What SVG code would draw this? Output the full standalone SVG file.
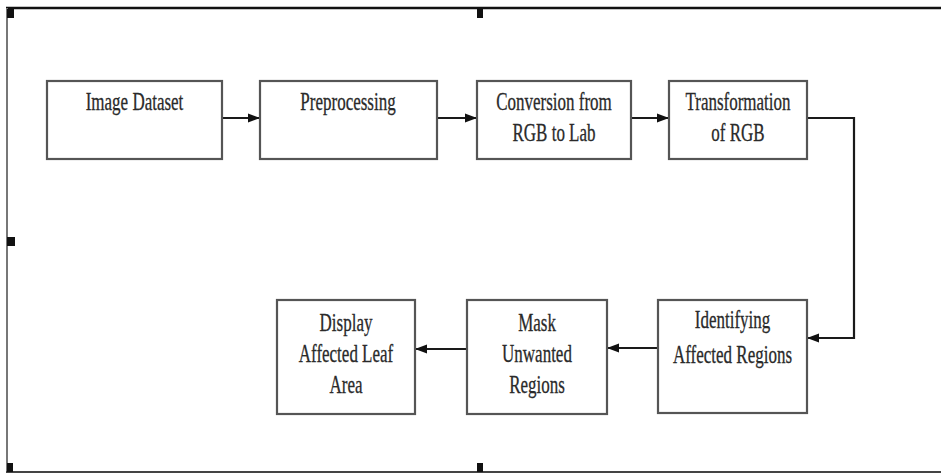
<svg xmlns="http://www.w3.org/2000/svg" width="941" height="476" viewBox="0 0 941 476">
<style>
.box{fill:#ffffff;stroke:#555555;stroke-width:2.2}
.lbl{font-family:"Liberation Serif","Times New Roman",serif;font-size:25px;fill:#2a2a2a;stroke:#2a2a2a;stroke-width:0.3;text-anchor:middle}
.con{fill:none;stroke:#1a1a1a;stroke-width:2.2}
.hd{fill:#111111}
</style>
<defs>
<marker id="ah" viewBox="0 0 12 10" refX="12" refY="5" markerWidth="12" markerHeight="10" markerUnits="userSpaceOnUse" orient="auto">
<path d="M0,0.5 L12,5 L0,9.5 Z" fill="#111111"/>
</marker>
</defs>
<rect x="0" y="0" width="941" height="476" fill="#ffffff"/>
<g id="frame">
<line x1="6" y1="8" x2="941" y2="8" stroke="#111111" stroke-width="2.5"/>
<line x1="7" y1="8" x2="7" y2="472" stroke="#777777" stroke-width="2"/>
<line x1="6" y1="472" x2="941" y2="472" stroke="#444444" stroke-width="2"/>
<rect class="hd" x="7" y="9" width="7" height="9"/>
<rect class="hd" x="477" y="9" width="6" height="9"/>
<rect class="hd" x="7" y="237" width="8" height="9"/>
<rect class="hd" x="7" y="463" width="6" height="9"/>
<rect class="hd" x="477" y="463" width="6" height="9"/>
</g>
<g id="connectors">
<line class="con" x1="222" y1="118" x2="260" y2="118" marker-end="url(#ah)"/>
<line class="con" x1="437" y1="118" x2="477" y2="118" marker-end="url(#ah)"/>
<line class="con" x1="631" y1="118" x2="669" y2="118" marker-end="url(#ah)"/>
<path class="con" d="M807,118 H854 V338 H807" marker-end="url(#ah)"/>
<line class="con" x1="658" y1="348" x2="607" y2="348" marker-end="url(#ah)"/>
<line class="con" x1="467" y1="349" x2="415" y2="349" marker-end="url(#ah)"/>
</g>
<g id="n1">
<rect class="box" x="47" y="81" width="175" height="78"/>
<text class="lbl" transform="translate(134.5,110) scale(0.68,1)">Image Dataset</text>
</g>
<g id="n2">
<rect class="box" x="260" y="81" width="177" height="78"/>
<text class="lbl" transform="translate(348,110) scale(0.68,1)">Preprocessing</text>
</g>
<g id="n3">
<rect class="box" x="477" y="81" width="154" height="78"/>
<text class="lbl" transform="translate(554,110) scale(0.68,1)"><tspan x="0" y="0">Conversion from</tspan><tspan x="0" y="31">RGB to Lab</tspan></text>
</g>
<g id="n4">
<rect class="box" x="669" y="81" width="138" height="78"/>
<text class="lbl" transform="translate(738,110) scale(0.68,1)"><tspan x="0" y="0">Transformation</tspan><tspan x="0" y="31">of RGB</tspan></text>
</g>
<g id="n5">
<rect class="box" x="658" y="300" width="149" height="113"/>
<text class="lbl" transform="translate(732.5,328) scale(0.68,1)"><tspan x="0" y="0">Identifying</tspan><tspan x="0" y="35">Affected Regions</tspan></text>
</g>
<g id="n6">
<rect class="box" x="467" y="300" width="140" height="114"/>
<text class="lbl" transform="translate(537,331) scale(0.68,1)"><tspan x="0" y="0">Mask</tspan><tspan x="0" y="31">Unwanted</tspan><tspan x="0" y="62">Regions</tspan></text>
</g>
<g id="n7">
<rect class="box" x="277" y="300" width="138" height="114"/>
<text class="lbl" transform="translate(346,331) scale(0.68,1)"><tspan x="0" y="0">Display</tspan><tspan x="0" y="31">Affected Leaf</tspan><tspan x="0" y="62">Area</tspan></text>
</g>
</svg>
